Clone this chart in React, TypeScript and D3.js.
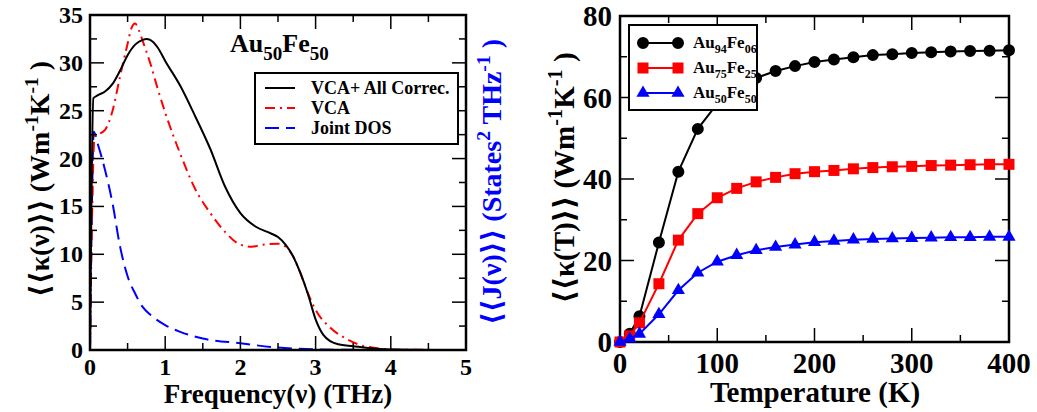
import React, { useEffect, useRef } from "react";
import * as d3 from "d3";

// left panel: spectral conductivity vs frequency
const freqAll = [0, 0.045, 0.1, 0.2, 0.3, 0.4, 0.5, 0.6, 0.7, 0.75, 0.8, 0.9, 1.0, 1.2, 1.4, 1.6, 1.8, 2.0, 2.2, 2.4, 2.5, 2.6, 2.7, 2.8, 2.9, 3.0, 3.1, 3.2, 3.3, 3.5, 3.7, 4.0, 4.5, 5.0];
const kappaAll = [0, 26.3, 26.6, 27.0, 27.8, 29.2, 30.8, 31.9, 32.4, 32.5, 32.4, 31.6, 30.2, 27.6, 24.4, 21.0, 17.0, 14.3, 12.9, 12.2, 11.8, 11.0, 9.8, 8.0, 5.8, 3.2, 1.6, 0.9, 0.6, 0.4, 0.2, 0.05, 0, 0];

const freqVca = [0, 0.03, 0.06, 0.1, 0.2, 0.3, 0.4, 0.5, 0.55, 0.6, 0.65, 0.7, 0.8, 0.9, 1.0, 1.2, 1.4, 1.6, 1.8, 2.0, 2.15, 2.3, 2.5, 2.6, 2.7, 2.8, 2.9, 3.0, 3.2, 3.4, 3.6, 3.8, 4.0, 5.0];
const kappaVca = [0, 15, 22.3, 22.5, 23.0, 25.0, 28.6, 32.0, 33.6, 34.1, 33.4, 32.3, 30.0, 27.3, 24.8, 20.5, 16.8, 14.3, 12.3, 11.0, 10.8, 11.0, 11.1, 10.8, 9.8, 8.0, 5.9, 4.2, 2.3, 1.2, 0.5, 0.2, 0.05, 0];

const freqJdos = [0, 0.02, 0.05, 0.1, 0.2, 0.3, 0.4, 0.5, 0.6, 0.7, 0.8, 1.0, 1.2, 1.5, 2.0, 2.5, 3.0, 3.5, 4.0, 5.0];
const jdos = [0, 12, 22.8, 21.6, 18.8, 15.3, 10.8, 7.7, 5.9, 4.5, 3.7, 2.6, 1.9, 1.2, 0.7, 0.25, 0.07, 0.02, 0, 0];

const leftLegend = ["VCA+ All Correc.", "VCA", "Joint DOS"];

// right panel: conductivity vs temperature
const temps = [0, 10, 20, 40, 60, 80, 100, 120, 140, 160, 180, 200, 220, 240, 260, 280, 300, 320, 340, 360, 380, 400];
const kAu94 = [0, 2.0, 6.3, 24.4, 41.8, 52.3, 58.5, 62.3, 64.8, 66.5, 67.7, 68.7, 69.3, 69.9, 70.4, 70.6, 70.9, 71.1, 71.3, 71.4, 71.5, 71.6];
const kAu75 = [0, 1.5, 4.7, 14.3, 25.0, 31.5, 35.4, 37.7, 39.3, 40.4, 41.3, 41.8, 42.1, 42.5, 42.8, 43.0, 43.1, 43.3, 43.4, 43.5, 43.6, 43.6];
const kAu50 = [0, 0.8, 2.0, 6.8, 12.7, 17.0, 19.7, 21.3, 22.5, 23.3, 23.9, 24.5, 24.8, 25.1, 25.3, 25.4, 25.5, 25.6, 25.7, 25.7, 25.8, 25.8];

const alloyNames = [["94", "06"], ["75", "25"], ["50", "50"]];

const FONT = "Liberation Serif, Times New Roman, Times, DejaVu Serif, serif";

const App = () => {
  const svgRef = useRef(null);

  useEffect(() => {
    const svg = d3.select(svgRef.current);
    svg.selectAll("*").remove();
    svg.style("font-family", FONT);

    // frame with inward ticks on all four sides
    const frame = (g, x, y, xMajor, xMinor, yMajor, yMinor) => {
      const [x0, x1] = x.range();
      const [y0, y1] = y.range();
      const tk = g.append("g").attr("stroke", "#000").attr("stroke-width", 1.5);
      xMinor.forEach((v) => {
        const len = xMajor.includes(v) ? 14 : 7;
        tk.append("line").attr("x1", x(v)).attr("x2", x(v)).attr("y1", y0).attr("y2", y0 - len);
        tk.append("line").attr("x1", x(v)).attr("x2", x(v)).attr("y1", y1).attr("y2", y1 + len);
      });
      yMinor.forEach((v) => {
        const len = yMajor.includes(v) ? 14 : 7;
        tk.append("line").attr("y1", y(v)).attr("y2", y(v)).attr("x1", x0).attr("x2", x0 + len);
        tk.append("line").attr("y1", y(v)).attr("y2", y(v)).attr("x1", x1).attr("x2", x1 - len);
      });
      g.append("rect")
        .attr("x", x0).attr("y", y1)
        .attr("width", x1 - x0).attr("height", y0 - y1)
        .attr("fill", "none").attr("stroke", "#000").attr("stroke-width", 2.5);
    };

    const label = (g) => g.append("text").style("font-family", FONT).attr("font-weight", "bold");

    // ---------- left panel ----------
    const xL = d3.scaleLinear().domain([0, 5]).range([90, 466]);
    const yL = d3.scaleLinear().domain([0, 35]).range([350, 15]);
    const gL = svg.append("g");

    const lineL = d3.line().x((d) => xL(d[0])).y((d) => yL(d[1])).curve(d3.curveMonotoneX);
    const curves = [
      { xs: freqAll, ys: kappaAll, color: "#000", dash: null },
      { xs: freqVca, ys: kappaVca, color: "#ff0000", dash: "10,5,2,5" },
      { xs: freqJdos, ys: jdos, color: "#0000ff", dash: "14,7" },
    ];
    curves.slice().reverse().forEach((c) => {
      gL.append("path")
        .attr("d", lineL(c.xs.map((v, i) => [v, c.ys[i]])))
        .attr("fill", "none")
        .attr("stroke", c.color)
        .attr("stroke-width", 2)
        .attr("stroke-dasharray", c.dash);
    });

    frame(gL, xL, yL, d3.range(0, 5.01, 1), d3.range(0, 5.01, 0.5), d3.range(0, 35.1, 5), d3.range(0, 35.1, 2.5));

    d3.range(0, 36, 5).forEach((d) => {
      label(gL).attr("x", 83).attr("y", yL(d) + 8)
        .attr("text-anchor", "end").attr("font-size", 24).text(d);
    });
    d3.range(0, 6, 1).forEach((d) => {
      label(gL).attr("x", xL(d)).attr("y", 375)
        .attr("text-anchor", "middle").attr("font-size", 24).text(d);
    });

    label(gL).attr("x", 278).attr("y", 403)
      .attr("text-anchor", "middle").attr("font-size", 27)
      .text("Frequency(ν) (THz)");

    const yTitle = (g, x, y, head, tail, color, size) => {
      const t = label(g)
        .attr("transform", `translate(${x},${y}) rotate(-90)`)
        .attr("text-anchor", "middle")
        .attr("font-size", size)
        .attr("fill", color);
      t.append("tspan").text(head);
      tail.forEach(([s, sup]) => {
        if (sup) t.append("tspan").attr("dy", -size * 0.4).attr("font-size", size * 0.7).text(s);
        else t.append("tspan").attr("dy", size * 0.4).text(s);
      });
    };

    yTitle(gL, 49, 179, "⟨⟨κ(ν)⟩⟩ (Wm", [["-1", true], ["K", false], ["-1", true], [" )", false]], "#000", 28);
    yTitle(gL, 501, 182, "⟨⟨J(ν)⟩⟩ (States", [["2", true], [" THz", false], ["-1", true], [" )", false]], "#0000ff", 28);

    const comp = label(gL).attr("x", 230).attr("y", 52).attr("font-size", 26);
    comp.append("tspan").text("Au");
    comp.append("tspan").attr("dy", 8).attr("font-size", 19).text("50");
    comp.append("tspan").attr("dy", -8).text("Fe");
    comp.append("tspan").attr("dy", 8).attr("font-size", 19).text("50");

    const legL = gL.append("g");
    legL.append("rect")
      .attr("x", 255).attr("y", 73).attr("width", 203).attr("height", 71)
      .attr("fill", "#fff").attr("stroke", "#000").attr("stroke-width", 2);
    leftLegend.forEach((name, i) => {
      const yy = 88 + i * 20;
      legL.append("line")
        .attr("x1", 265).attr("x2", 295).attr("y1", yy).attr("y2", yy)
        .attr("stroke", curves[i].color).attr("stroke-width", 2)
        .attr("stroke-dasharray", curves[i].dash);
      label(legL).attr("x", 311).attr("y", yy + 6).attr("font-size", 18).text(name);
    });

    // ---------- right panel ----------
    const xR = d3.scaleLinear().domain([0, 400]).range([620, 1009]);
    const yR = d3.scaleLinear().domain([0, 80]).range([342, 16]);
    const gR = svg.append("g");

    const series = [
      { ys: kAu94, color: "#000", shape: d3.symbolCircle, size: 113 },
      { ys: kAu75, color: "#ff0000", shape: d3.symbolSquare, size: 121 },
      { ys: kAu50, color: "#0000ff", shape: d3.symbolTriangle, size: 75 },
    ];
    const lineR = d3.line().x((d) => xR(d[0])).y((d) => yR(d[1]));

    frame(gR, xR, yR, d3.range(0, 401, 100), d3.range(0, 401, 50), d3.range(0, 81, 20), d3.range(0, 81, 10));

    series.forEach((s) => {
      const pts = temps.map((t, i) => [t, s.ys[i]]);
      gR.append("path")
        .attr("d", lineR(pts))
        .attr("fill", "none").attr("stroke", s.color).attr("stroke-width", 2);
      gR.selectAll(null).data(pts).enter().append("path")
        .attr("transform", (d) => `translate(${xR(d[0])},${yR(d[1])})`)
        .attr("d", d3.symbol().type(s.shape).size(s.size)())
        .attr("fill", s.color);
    });

    d3.range(0, 81, 20).forEach((d) => {
      label(gR).attr("x", 612).attr("y", yR(d) + 10)
        .attr("text-anchor", "end").attr("font-size", 29).text(d);
    });
    d3.range(0, 401, 100).forEach((d) => {
      label(gR).attr("x", xR(d)).attr("y", 373)
        .attr("text-anchor", "middle").attr("font-size", 29).text(d);
    });

    label(gR).attr("x", 815).attr("y", 402)
      .attr("text-anchor", "middle").attr("font-size", 29)
      .text("Temperature (K)");

    yTitle(gR, 574, 178, "⟨⟨κ(T)⟩⟩ (Wm", [["-1", true], ["K", false], ["-1", true], [" )", false]], "#000", 29);

    const legR = gR.append("g");
    legR.append("rect")
      .attr("x", 629).attr("y", 25).attr("width", 128).attr("height", 85)
      .attr("fill", "#fff").attr("stroke", "#000").attr("stroke-width", 2);
    series.forEach((s, i) => {
      const yy = 43 + i * 25;
      legR.append("line")
        .attr("x1", 643).attr("x2", 678).attr("y1", yy).attr("y2", yy)
        .attr("stroke", s.color).attr("stroke-width", 2);
      [643, 678].forEach((xx) => {
        legR.append("path")
          .attr("transform", `translate(${xx},${yy})`)
          .attr("d", d3.symbol().type(s.shape).size(s.size)())
          .attr("fill", s.color);
      });
      const t = label(legR).attr("x", 693).attr("y", yy + 5).attr("font-size", 17);
      t.append("tspan").text("Au");
      t.append("tspan").attr("dy", 5).attr("font-size", 12).text(alloyNames[i][0]);
      t.append("tspan").attr("dy", -5).text("Fe");
      t.append("tspan").attr("dy", 5).attr("font-size", 12).text(alloyNames[i][1]);
    });
  }, []);

  return (
    <svg
      ref={svgRef}
      width={1037}
      height={412}
      style={{ position: "absolute", left: 0, top: 0, background: "#fff" }}
    />
  );
};

export default App;
